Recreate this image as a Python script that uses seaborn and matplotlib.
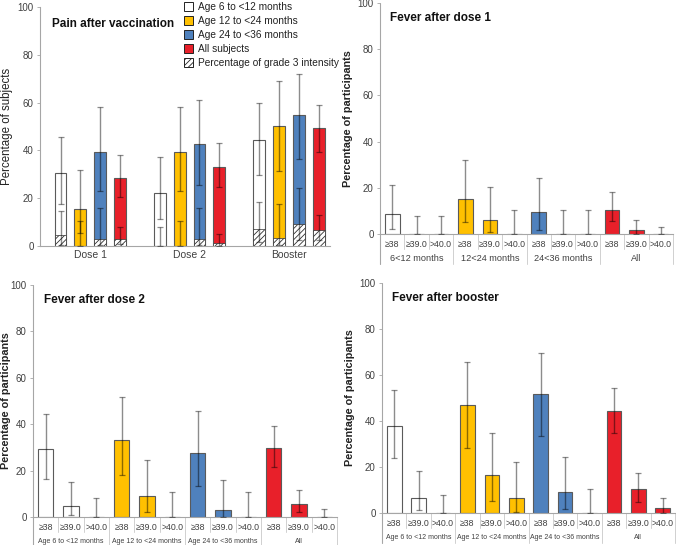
import numpy as np
import pandas as pd
import matplotlib
matplotlib.use("Agg")
import matplotlib.pyplot as plt
import matplotlib.transforms as mtransforms
from matplotlib.patches import Patch
import seaborn as sns

# ---------------- data ----------------
doses = ["Dose 1", "Dose 2", "Booster"]
age_groups = ["Age 6 to <12 months", "Age 12 to <24 months", "Age 24 to <36 months", "All subjects"]
colors = ["#FFFFFF", "#FFC000", "#4F81BD", "#E8202A"]

# pain (any) per dose, per group
pain_6_12 = [30.4, 22.3, 44.3]
pain_12_24 = [15.4, 39.5, 50.1]
pain_24_36 = [39.4, 42.5, 54.7]
pain_all = [28.6, 33.2, 49.3]
pain_low = [[17.7, 11.2, 29.6], [5.3, 23.0, 31.3], [23.0, 25.4, 36.3], [20.5, 24.7, 39.2]]
pain_high = [[45.8, 37.2, 59.8], [31.8, 58.0, 68.9], [58.0, 61.0, 72.0], [38.1, 43.0, 58.9]]
# grade 3 pain
g3_6_12 = [4.6, 0.0, 7.0]
g3_12_24 = [0.0, 0.0, 3.5]
g3_24_36 = [3.1, 3.1, 9.2]
g3_all = [2.8, 1.2, 6.6]
g3_low = [[0.6, 0.0, 1.5], [0.0, 0.0, 0.4], [0.4, 0.4, 2.6], [0.9, 0.1, 2.5]]
g3_high = [[14.8, 8.0, 18.3], [10.6, 10.6, 17.5], [15.9, 15.9, 24.3], [7.8, 4.9, 12.8]]

fever_levels = ["\u226538", "\u226539.0", ">40.0"]
groups_dose1 = ["6<12 months", "12<24 months", "24<36 months", "All"]
groups_long = ["Age 6 to <12 months", "Age 12 to <24 months", "Age 24 to <36 months", "All"]

fever_d1 = [8.8, 0, 0, 15.3, 6.2, 0, 9.4, 0, 0, 10.6, 1.9, 0]
fever_d1_low = [2.3, 0, 0, 5.0, 0.7, 0, 1.8, 0, 0, 5.8, 0.2, 0]
fever_d1_high = [21.0, 7.8, 7.8, 31.9, 20.3, 10.6, 24.3, 10.6, 10.6, 18.0, 6.2, 3.2]

fever_d2 = [29.1, 4.7, 0, 33.4, 9.2, 0, 27.5, 3.2, 0, 29.8, 5.6, 0]
fever_d2_low = [16.5, 0.8, 0, 18.3, 2.2, 0, 13.4, 0.1, 0, 21.6, 2.0, 0]
fever_d2_high = [44.6, 15.3, 8.2, 51.9, 24.6, 10.8, 45.6, 16.0, 10.8, 39.1, 11.7, 3.5]

fever_bo = [37.9, 6.6, 0, 46.8, 16.6, 6.6, 51.7, 9.0, 0, 44.5, 10.3, 2.0]
fever_bo_low = [23.8, 1.3, 0, 28.2, 5.4, 0.5, 33.5, 1.7, 0, 35.0, 5.0, 0.2]
fever_bo_high = [53.5, 18.2, 7.9, 65.8, 35.0, 22.3, 69.4, 24.4, 10.6, 54.2, 17.5, 6.5]

# ---------------- style ----------------
sns.set_theme(style="white")
plt.rcParams["font.family"] = ["Liberation Sans", "DejaVu Sans"]
plt.rcParams["hatch.linewidth"] = 0.6
AX_GRAY = "#a6a6a6"
TXT = "#404040"
ELINE = (0, 0, 0, 0.45)
ECAP = (0, 0, 0, 0.8)

fig = plt.figure(figsize=(6.76, 5.45), dpi=100)
W, H = 676, 545


def add_ax(l, t, r, b):
    return fig.add_axes([l / W, (H - b) / H, (r - l) / W, (b - t) / H])


def errbars(ax, xs, vals, lo, hi):
    vals = np.asarray(vals, float)
    yerr = np.vstack([vals - np.asarray(lo, float), np.asarray(hi, float) - vals])
    eb = ax.errorbar(xs, vals, yerr=yerr, fmt="none", ecolor=ELINE, elinewidth=1.0,
                     capsize=2.2, capthick=0.9, zorder=5)
    for c in eb[1]:
        c.set_color(ECAP)


def style_y(ax, ylabel, bold, label_px=None):
    ax.set_ylim(0, 100)
    ax.set_yticks([0, 20, 40, 60, 80, 100])
    ax.tick_params(axis="y", labelsize=7, colors=TXT, length=2.5, width=0.6, color=AX_GRAY, left=True, pad=2)
    for lab in ax.get_yticklabels():
        lab.set_color(TXT)
    ax.set_ylabel(ylabel, fontsize=7.8 if bold else 8.3, fontweight="bold" if bold else "normal",
                  color="#222222", labelpad=2 if bold else 3)
    if label_px is not None:
        wpx = ax.get_position().width * W
        ax.yaxis.set_label_coords(-label_px / wpx, 0.5)
    for s in ["top", "right"]:
        ax.spines[s].set_visible(False)
    ax.spines["left"].set_color(AX_GRAY)
    ax.spines["bottom"].set_color(AX_GRAY)
    ax.spines["left"].set_linewidth(0.8)
    ax.spines["bottom"].set_linewidth(0.8)


# ---------------- Panel A: pain ----------------
axA = add_ax(40, 7, 330, 246)
pain_vals = [pain_6_12, pain_12_24, pain_24_36, pain_all]
g3_vals = [g3_6_12, g3_12_24, g3_24_36, g3_all]
dfA = pd.DataFrame([{"dose": d, "group": g, "value": pain_vals[i][j]}
                    for i, g in enumerate(age_groups) for j, d in enumerate(doses)])
dfG = pd.DataFrame([{"dose": d, "group": g, "value": g3_vals[i][j]}
                    for i, g in enumerate(age_groups) for j, d in enumerate(doses)])
sns.barplot(data=dfA, x="dose", y="value", hue="group", order=doses, hue_order=age_groups,
            palette=colors, width=0.8, gap=0.4, edgecolor="#5a5a5a", linewidth=0.8,
            errorbar=None, legend=False, ax=axA, saturation=1)
sns.barplot(data=dfG, x="dose", y="value", hue="group", order=doses, hue_order=age_groups,
            palette=["#FFFFFF"] * 4, width=0.8, gap=0.4, edgecolor="#303030", linewidth=0.5,
            errorbar=None, legend=False, ax=axA, saturation=1)
for k in range(4, 8):
    for p in axA.containers[k]:
        p.set_hatch("//////")
for i in range(4):
    xs = [p.get_x() + p.get_width() / 2 for p in axA.containers[i]]
    errbars(axA, xs, pain_vals[i], pain_low[i], pain_high[i])
    errbars(axA, xs, g3_vals[i], g3_low[i], g3_high[i])
axA.set_xlim(-0.507, 2.415)
style_y(axA, "Percentage of subjects", False)
axA.set_xlabel("")
axA.tick_params(axis="x", labelsize=7.5, colors=TXT, length=0, pad=3)
axA.text(0.04, 0.93, "Pain after vaccination", transform=axA.transAxes, fontsize=8.5,
         fontweight="bold", color="#111111", va="center")
handles = [Patch(facecolor=c, edgecolor="#222222", linewidth=0.7) for c in colors]
handles.append(Patch(facecolor="white", edgecolor="#222222", linewidth=0.7, hatch="//////"))
leg = axA.legend(handles, age_groups[:3] + ["All subjects", "Percentage of grade 3 intensity"],
                 loc="upper left", bbox_to_anchor=(0.495, 1.022), frameon=False, fontsize=7.3,
                 handlelength=0.9, handleheight=1.1, handletextpad=0.5, labelspacing=0.36,
                 borderpad=0, borderaxespad=0)
for t in leg.get_texts():
    t.set_color("#222222")


# ---------------- fever panels ----------------
def fever_panel(ax, title, vals, lo, hi, groups, glabel_size, label_px):
    keys = [f"{g}|{l}" for g in groups for l in fever_levels]
    df = pd.DataFrame({"key": keys, "value": vals,
                       "grp": [g for g in groups for _ in fever_levels]})
    sns.barplot(data=df, x="key", y="value", hue="grp", order=keys, hue_order=groups,
                palette=colors, dodge=False, width=0.6, edgecolor="#5a5a5a", linewidth=0.8,
                errorbar=None, legend=False, ax=ax, saturation=1)
    errbars(ax, np.arange(len(keys)), vals, lo, hi)
    ax.set_xlim(-0.5, len(keys) - 0.5)
    style_y(ax, "Percentage of participants", True, label_px)
    ax.set_xlabel("")
    ax.set_xticks(np.arange(len(keys)))
    ax.set_xticklabels(fever_levels * len(groups))
    ax.tick_params(axis="x", labelsize=6.3, colors=TXT, length=0, pad=4)
    ax.spines["left"].set_visible(False)
    trans = mtransforms.blended_transform_factory(ax.transData, ax.transAxes)
    hpx = ax.get_position().height * H
    r1 = 14.5 / hpx
    r2 = 29.5 / hpx
    ax.plot([-0.5, -0.5], [1.0, -r2], transform=trans, color=AX_GRAY, lw=0.8, clip_on=False)
    for k in range(1, len(keys) + 1):
        xk = k - 0.5
        depth = r2 if k % 3 == 0 else r1
        ax.plot([xk, xk], [0, -depth], transform=trans, color="#d0d0d0", lw=0.7, clip_on=False)
    for gi, g in enumerate(groups):
        ax.text(gi * 3 + 1, -(r1 + r2) / 2 - 0.012, g, transform=trans, ha="center", va="center",
                fontsize=glabel_size, color=TXT)
    ax.text(0.035, 0.935, title, transform=ax.transAxes, fontsize=8.5, fontweight="bold",
            color="#111111", va="center")


axB = add_ax(380, 3, 673, 234)
fever_panel(axB, "Fever after dose 1", fever_d1, fever_d1_low, fever_d1_high, groups_dose1, 6.6, 27)
axC = add_ax(33, 285, 337, 517)
fever_panel(axC, "Fever after dose 2", fever_d2, fever_d2_low, fever_d2_high, groups_long, 5.0, 22)
axD = add_ax(382, 283, 675, 513)
fever_panel(axD, "Fever after booster", fever_bo, fever_bo_low, fever_bo_high, groups_long, 5.0, 27)

fig.savefig("out.png", dpi=100, facecolor="white")
